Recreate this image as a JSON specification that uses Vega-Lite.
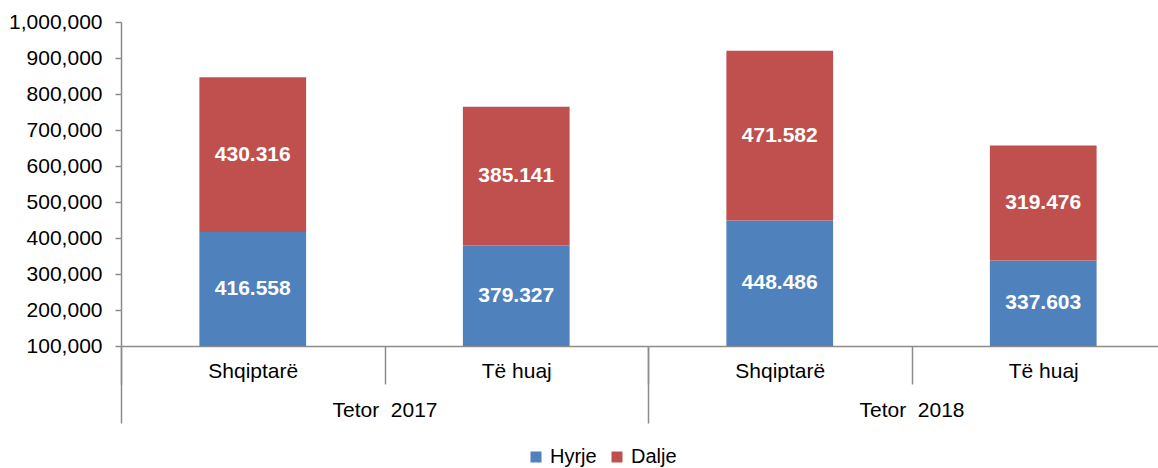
{
  "$schema": "https://vega.github.io/schema/vega-lite/v6.json",
  "autosize": {"type": "none"},
  "width": 1037,
  "height": 324,
  "padding": {"left": 121, "top": 22, "right": 0, "bottom": 122},
  "background": "white",
  "config": {
    "font": "Liberation Sans",
    "view": {"stroke": null},
    "axis": {"grid": false, "title": null, "labelFont": "Liberation Sans", "labelFontSize": 21, "labelColor": "#000000", "domainColor": "#8c8c8c", "tickColor": "#8c8c8c", "domainWidth": 1.5, "tickWidth": 1.5},
    "axisY": {"values": [100000, 200000, 300000, 400000, 500000, 600000, 700000, 800000, 900000, 1000000], "format": ",.0f", "tickSize": 6, "labelPadding": 13, "labelOverlap": false, "labelBound": false, "labelFlush": false, "tickCount": 10}
  },
  "data": {
    "values": [
      {"key": "2017|Shqiptarë", "year": "Tetor \u00a02017", "type": "Hyrje", "value": 416558, "label": "416.558"},
      {"key": "2017|Shqiptarë", "year": "Tetor \u00a02017", "type": "Dalje", "value": 430316, "label": "430.316"},
      {"key": "2017|Të huaj", "year": "Tetor \u00a02017", "type": "Hyrje", "value": 379327, "label": "379.327"},
      {"key": "2017|Të huaj", "year": "Tetor \u00a02017", "type": "Dalje", "value": 385141, "label": "385.141"},
      {"key": "2018|Shqiptarë", "year": "Tetor \u00a02018", "type": "Hyrje", "value": 448486, "label": "448.486"},
      {"key": "2018|Shqiptarë", "year": "Tetor \u00a02018", "type": "Dalje", "value": 471582, "label": "471.582"},
      {"key": "2018|Të huaj", "year": "Tetor \u00a02018", "type": "Hyrje", "value": 337603, "label": "337.603"},
      {"key": "2018|Të huaj", "year": "Tetor \u00a02018", "type": "Dalje", "value": 319476, "label": "319.476"}
    ]
  },
  "layer": [
    {
      "layer": [
        {
          "mark": {"type": "bar", "clip": true, "width": {"band": 0.405}},
          "encoding": {
            "x": {
              "field": "key", "type": "nominal", "sort": null,
              "scale": {"range": [0, 1054], "paddingInner": 0, "paddingOuter": 0},
              "axis": {"orient": "bottom", "tickBand": "extent", "tickSize": 38, "labelPadding": -24, "labelExpr": "split(datum.label, '|')[1]", "labelAngle": 0}
            },
            "y": {
              "field": "value", "type": "quantitative", "stack": "zero",
              "scale": {"domain": [100000, 1000000], "nice": false, "zero": false}
            },
            "color": {
              "field": "type", "type": "nominal",
              "scale": {"domain": ["Hyrje", "Dalje"], "range": ["#4F81BD", "#C0504D"]},
              "legend": {"title": null, "orient": "none", "direction": "horizontal", "legendX": 405, "legendY": 425, "symbolType": "square", "symbolSize": 121, "symbolStrokeWidth": 0, "labelFontSize": 20, "labelOffset": 4, "columnSpacing": 15, "padding": 0}
            },
            "order": {"field": "type", "sort": "descending"}
          }
        },
        {
          "transform": [
            {"stack": "value", "groupby": ["key"], "sort": [{"field": "type", "order": "descending"}], "as": ["v0", "v1"]},
            {"calculate": "(max(datum.v0, 100000) + datum.v1) / 2", "as": "mid"}
          ],
          "mark": {"type": "text", "color": "white", "fontWeight": "bold", "fontSize": 21, "baseline": "middle", "align": "center"},
          "encoding": {
            "x": {"field": "key", "type": "nominal", "sort": null},
            "y": {"field": "mid", "type": "quantitative"},
            "text": {"field": "label"}
          }
        }
      ]
    },
    {
      "mark": {"type": "point", "opacity": 0},
      "encoding": {
        "x": {
          "field": "year", "type": "nominal", "sort": null,
          "scale": {"range": [0, 1054], "paddingInner": 0, "paddingOuter": 0},
          "axis": {"orient": "bottom", "tickBand": "extent", "tickSize": 77, "labelPadding": -24, "domain": false, "labelAngle": 0}
        },
        "y": {"field": "value", "type": "quantitative"}
      }
    }
  ],
  "resolve": {"scale": {"x": "independent"}, "axis": {"x": "independent"}}
}
